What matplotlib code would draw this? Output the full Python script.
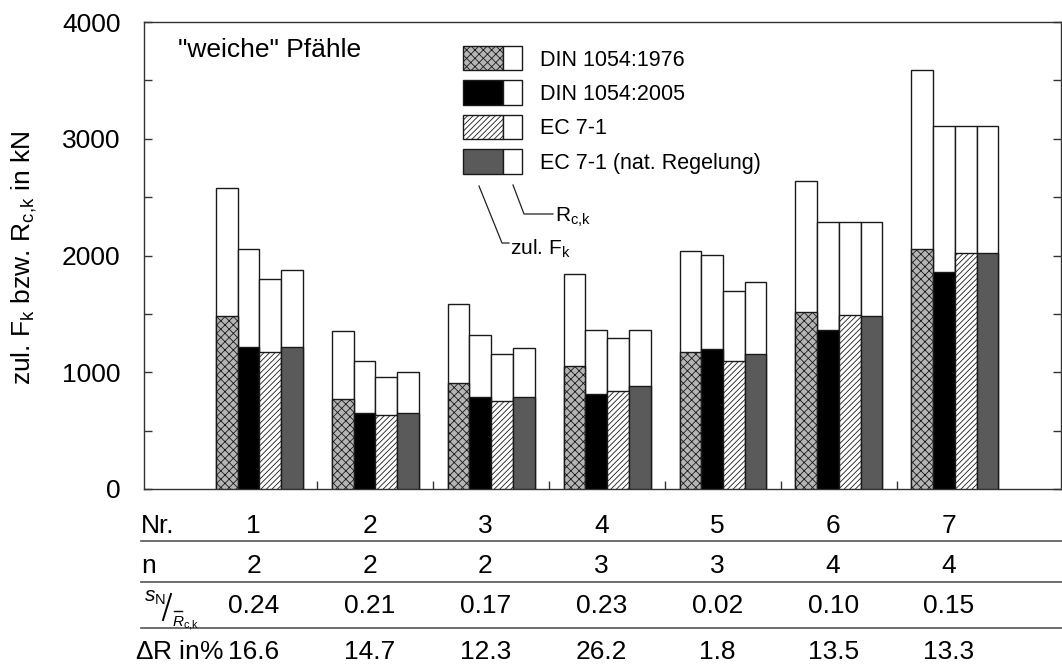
import matplotlib
matplotlib.use('Agg')
import matplotlib.pyplot as plt
from matplotlib.patches import Rectangle
from matplotlib.lines import Line2D
from matplotlib.transforms import blended_transform_factory
from matplotlib.ticker import MultipleLocator

plt.rcParams['font.family'] = ['Liberation Sans', 'DejaVu Sans']
plt.rcParams['mathtext.fontset'] = 'custom'
plt.rcParams['mathtext.rm'] = 'Liberation Sans'
plt.rcParams['mathtext.it'] = 'Liberation Sans:italic'
plt.rcParams['mathtext.bf'] = 'Liberation Sans:bold'
plt.rcParams['hatch.linewidth'] = 0.6

# ---------------- data ----------------
nr = [1, 2, 3, 4, 5, 6, 7]
n_piles = ['2', '2', '2', '3', '3', '4', '4']
s_ratio = ['0.24', '0.21', '0.17', '0.23', '0.02', '0.10', '0.15']
delta_R = ['16.6', '14.7', '12.3', '26.2', '1.8', '13.5', '13.3']

series = ['DIN 1054:1976', 'DIN 1054:2005', 'EC 7-1', 'EC 7-1 (nat. Regelung)']

R_din76 = [2580, 1350, 1585, 1840, 2040, 2640, 3590]
R_din05 = [2055, 1095, 1320, 1360, 2005, 2285, 3110]
R_ec7 = [1795, 960, 1155, 1295, 1700, 2285, 3110]
R_ec7n = [1875, 1000, 1205, 1360, 1775, 2285, 3110]

F_din76 = [1480, 770, 905, 1050, 1170, 1515, 2055]
F_din05 = [1220, 650, 790, 810, 1195, 1360, 1855]
F_ec7 = [1170, 630, 750, 840, 1100, 1490, 2020]
F_ec7n = [1215, 650, 785, 885, 1155, 1485, 2020]

R_all = [R_din76, R_din05, R_ec7, R_ec7n]
F_all = [F_din76, F_din05, F_ec7, F_ec7n]

styles = [dict(facecolor='#b5b5b5', hatch='xxxx'),
          dict(facecolor='black'),
          dict(facecolor='white', hatch='//////'),
          dict(facecolor='#5a5a5a')]

# ---------------- figure ----------------
W, H = 1062, 666
fig = plt.figure(figsize=(W / 100, H / 100), dpi=100)
ax = fig.add_axes([143.5 / W, (H - 489) / H, (1061 - 143.5) / W, (489 - 22) / H])


def F(x, y):
    return (x / W, 1 - y / H)


edge = '#1a1a1a'
w = 0.1875
for k in range(4):
    xs = [g + (k - 1.5) * w for g in nr]
    ax.bar(xs, R_all[k], width=w, facecolor='white', edgecolor=edge, linewidth=1.0, zorder=2)
    ax.bar(xs, F_all[k], width=w, edgecolor=edge, linewidth=1.0, zorder=3, **styles[k])

ax.set_xlim(0, (1061 - 143.5) / 115.9)
ax.set_ylim(0, 4000)
ax.set_yticks([0, 1000, 2000, 3000, 4000])
ax.yaxis.set_minor_locator(MultipleLocator(500))
ax.tick_params(axis='y', which='both', direction='in', length=6, width=1,
               left=True, right=True, labelsize=19, pad=16.5, color='#333333')
ax.set_xticks([1.5, 2.5, 3.5, 4.5, 5.5, 6.5])
ax.set_xticklabels([])
ax.tick_params(axis='x', direction='in', length=6, width=1, color='#333333')
for s in ax.spines.values():
    s.set_linewidth(1.0)
    s.set_color('#333333')

fig.text(*F(24, 258), r'zul. F$_\mathrm{k}$ bzw. R$_\mathrm{c{,}k}$ in kN', rotation=90,
         ha='center', va='center', fontsize=19)

fig.text(*F(178, 57), '"weiche" Pfähle', fontsize=19, ha='left', va='baseline')

# ---------------- legend ----------------
row_tops = [45.7, 80.1, 114.5, 149.0]
baselines = [65.7, 100.1, 134.5, 169.0]
for k in range(4):
    y0 = row_tops[k] + 24.6
    x0, y0f = F(463, y0)
    fig.add_artist(Rectangle((x0, y0f), 40 / W, 24.6 / H, transform=fig.transFigure,
                             edgecolor=edge, linewidth=1.0, **styles[k]))
    x1, _ = F(503, y0)
    fig.add_artist(Rectangle((x1, y0f), 19 / W, 24.6 / H, transform=fig.transFigure,
                             facecolor='white', edgecolor=edge, linewidth=1.0))
    fig.text(*F(540, baselines[k]), series[k], fontsize=15.5, ha='left', va='baseline')

# annotation lines
p = [F(479, 186), F(502, 243), F(509, 243)]
fig.add_artist(Line2D([q[0] for q in p], [q[1] for q in p], color='#222222', lw=0.9,
                      transform=fig.transFigure))
p = [F(513, 185), F(524, 214), F(553, 214)]
fig.add_artist(Line2D([q[0] for q in p], [q[1] for q in p], color='#222222', lw=0.9,
                      transform=fig.transFigure))
fig.text(*F(510, 255), r'zul. F$_\mathrm{k}$', fontsize=15, ha='left', va='baseline')
fig.text(*F(555, 222), r'R$_\mathrm{c{,}k}$', fontsize=15, ha='left', va='baseline')

# ---------------- table ----------------
for yl in [541, 582, 628]:
    a, b = F(141, yl)
    c, d = F(1062, yl)
    fig.add_artist(Line2D([a, c], [b, d], color='#555555', lw=1.2, transform=fig.transFigure))

tr = blended_transform_factory(ax.transData, fig.transFigure)
rows = [(533, [str(v) for v in nr], 'Nr.'),
        (573, n_piles, 'n'),
        (613, s_ratio, None),
        (659, delta_R, r'$\Delta$R in%')]
for yb, vals, lab in rows:
    for g, v in zip(nr, vals):
        ax.text(g - 0.05, 1 - yb / H, v, transform=tr, ha='center', va='baseline',
                fontsize=19, clip_on=False)
    if lab is not None:
        xl = 141 if lab != r'$\Delta$R in%' else 135
        fig.text(*F(xl, yb), lab, fontsize=19, ha='left', va='baseline')

# s_N / R_ck label
fig.text(*F(144, 602), r'$s_\mathrm{N}$', fontsize=15, ha='left', va='baseline')
p = [F(163, 620), F(171, 594)]
fig.add_artist(Line2D([q[0] for q in p], [q[1] for q in p], color='black', lw=1.4,
                      transform=fig.transFigure))
fig.add_artist(Line2D([F(174, 0)[0], F(182, 0)[0]], [F(0, 611)[1], F(0, 611)[1]],
                      color='black', lw=1.0, transform=fig.transFigure))
fig.text(*F(172, 626), r'$R_\mathrm{c{,}k}$', fontsize=11, ha='left', va='baseline')

fig.savefig('out.png', dpi=100)
